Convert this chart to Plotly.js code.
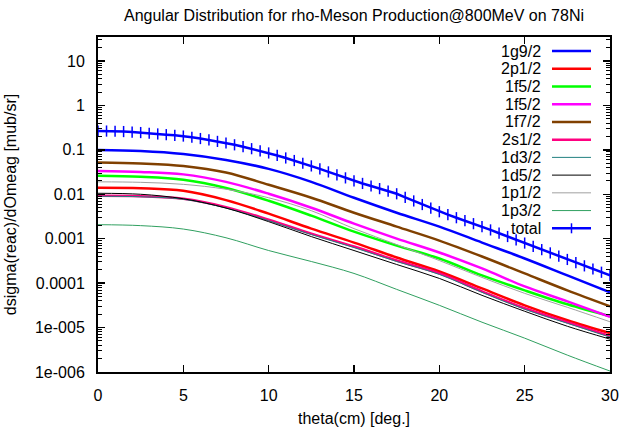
<!DOCTYPE html>
<html><head><meta charset="utf-8">
<script src="https://cdn.plot.ly/plotly-3.0.1.min.js"></script>
<style>html,body{margin:0;padding:0;background:#fff}#chart{width:621px;height:429px}</style>
</head><body><div id="chart"></div>
<script>
// ---------- data ----------
const thetaCoarse = [0, 2.5, 5, 7.5, 10, 12.5, 15, 17.5, 20, 22.5, 25, 27.5, 30];
const thetaFine = [0,0.5,1,1.5,2,2.5,3,3.5,4,4.5,5,5.5,6,6.5,7,7.5,8,8.5,9,9.5,10,10.5,11,11.5,12,12.5,13,13.5,14,14.5,15,15.5,16,16.5,17,17.5,18,18.5,19,19.5,20,20.5,21,21.5,22,22.5,23,23.5,24,24.5,25,25.5,26,26.5,27,27.5,28,28.5,29,29.5,30];

const names = ['1g9/2','2p1/2','1f5/2','1f5/2','1f7/2','2s1/2','1d3/2','1d5/2','1p1/2','1p3/2','total'];

const y1g92 = [0.0994,0.0944,0.0808,0.0593,0.0373,0.01906,0.00835,0.00385,0.00187,0.000819,0.000359,0.0001492,0.0000620];
const y2p12 = [0.01398,0.01363,0.01198,0.00740,0.00366,0.001686,0.000819,0.000378,0.0001833,0.0000762,0.0000317,0.0000146,0.00000748];
const y1f52a = [0.02598,0.02467,0.02113,0.01380,0.00715,0.00330,0.001444,0.000701,0.000359,0.0001492,0.0000688,0.0000334,0.0000180];
const y1f52b = [0.0336,0.0319,0.02806,0.01900,0.01026,0.00498,0.00218,0.001006,0.000489,0.000214,0.0000846,0.0000390,0.0000175];
const y1f72 = [0.0521,0.0495,0.0435,0.0310,0.01633,0.00835,0.00385,0.00187,0.000908,0.000398,0.0001654,0.0000688,0.0000301];
const y2s12 = [0.00925,0.00902,0.00793,0.00515,0.00268,0.001302,0.000666,0.000323,0.0001654,0.0000653,0.0000272,0.0000132,0.0000064];
const y1d32 = [0.00902,0.00879,0.00772,0.00490,0.00255,0.001237,0.000632,0.000307,0.0001570,0.0000620,0.0000258,0.0000125,0.00000609];
const y1d52 = [0.01053,0.0100,0.00793,0.00490,0.00242,0.001116,0.000542,0.000263,0.0001278,0.0000531,0.0000233,0.0000107,0.00000549];
const y1p12 = [0.01906,0.01858,0.01675,0.01300,0.00835,0.00427,0.001686,0.000738,0.000323,0.0001345,0.0000589,0.0000286,0.0000135];
const y1p32 = [0.00207,0.00197,0.00165,0.00105,0.000542,0.000307,0.0001654,0.0000724,0.0000317,0.0000132,0.00000578,0.00000240,0.00000105];
const yTotal = [0.2648,0.2648,0.2620,0.2580,0.2514,0.2450,0.2363,0.2279,0.2199,0.2121,0.2046,0.1923,0.1798,0.1673,0.1548,0.1426,0.1299,0.1178,0.1062,0.0953,0.0851,0.0748,0.0657,0.0575,0.0500,0.0435,0.0373,0.0319,0.0273,0.0234,0.0201,0.01754,0.01535,0.01342,0.01174,0.01026,0.00852,0.00708,0.00588,0.00488,0.00405,0.00347,0.00297,0.00255,0.00218,0.00187,0.001576,0.001329,0.001121,0.000946,0.000798,0.000673,0.000568,0.000479,0.000404,0.000341,0.000289,0.000245,0.000208,0.000176,0.0001492];

const yTickVals = [1e-6,1e-5,1e-4,1e-3,0.01,0.1,1,10];
const yTickText = ['1e-006','1e-005','0.0001','0.001','0.01','0.1','1','10'];
const xTickVals = [0,5,10,15,20,25,30];

const titleText = 'Angular Distribution for rho-Meson Production@800MeV on 78Ni';
const xTitleText = 'theta(cm) [deg.]';
const yTitleText = 'dsigma(reac)/dOmeag [mub/sr]';

// ---------- styles ----------
const colors = ['#0000ff','#ff0000','#00ff00','#ff00ff','#804000','#ff0080','#208080','#000000','#a0a0a0','#30a060','#0000ff'];
const widths = [2.5,2.5,2.5,2.5,2.5,2.5,1,1,1,1,2.5];
const seriesY = [y1g92,y2p12,y1f52a,y1f52b,y1f72,y2s12,y1d32,y1d52,y1p12,y1p32];

const FONT = 'Liberation Sans, Arial, sans-serif';
const W = 621, H = 429;
const L = 98, R = 610, T = 37, B = 372;

const traces = seriesY.map((ys, i) => ({
  x: thetaCoarse, y: ys, type: 'scatter', mode: 'lines', name: names[i],
  line: {color: colors[i], width: widths[i], shape: 'spline', smoothing: 1},
  showlegend: false, hoverinfo: 'skip'
}));
traces.push({
  x: thetaFine, y: yTotal, type: 'scatter', mode: 'lines+markers', name: names[10],
  line: {color: colors[10], width: 2.5},
  marker: {symbol: 'line-ns', size: 8, color: colors[10], line: {color: colors[10], width: 1.5}},
  showlegend: false, hoverinfo: 'skip'
});

// minor ticks for log axis
const minorVals = [];
for (let e = -6; e <= 1; e++) for (let m = 2; m <= 9; m++) minorVals.push(m * Math.pow(10, e));

// custom gnuplot-style legend
const px2x = p => (p - L) / (R - L);
const px2y = p => (B - p) / (B - T);
const shapes = [], annotations = [];
names.forEach((n, i) => {
  const yy = 51 + 17.73 * i;
  annotations.push({xref: 'paper', yref: 'paper', x: px2x(543), y: px2y(yy), xanchor: 'right', yanchor: 'middle',
    text: n, showarrow: false, font: {family: FONT, size: 16, color: '#000'}});
  shapes.push({type: 'line', xref: 'paper', yref: 'paper', x0: px2x(552), x1: px2x(591), y0: px2y(yy), y1: px2y(yy),
    line: {color: colors[i], width: widths[i]}});
  if (i === 10) {
    shapes.push({type: 'line', xref: 'paper', yref: 'paper', x0: px2x(571.5), x1: px2x(571.5), y0: px2y(yy - 5), y1: px2y(yy + 5),
      line: {color: colors[i], width: 1.5}});
  }
});

const layout = {
  width: W, height: H,
  margin: {l: L, r: W - R, t: T, b: H - B, pad: 0},
  paper_bgcolor: '#fff', plot_bgcolor: '#fff',
  font: {family: FONT, size: 16, color: '#000'},
  title: {text: titleText, x: 0.5, xref: 'paper', y: 1 - 15 / H, yref: 'container', yanchor: 'middle', xanchor: 'center',
    font: {family: FONT, size: 16, color: '#000'}},
  showlegend: false,
  xaxis: {
    range: [0, 30], tickmode: 'array', tickvals: xTickVals, ticktext: xTickVals.map(String),
    ticks: 'inside', ticklen: 7, tickwidth: 1.5, tickcolor: '#000',
    showline: true, linewidth: 2, linecolor: '#000', mirror: 'ticks',
    showgrid: false, zeroline: false, ticklabelstandoff: 8,
    tickfont: {family: FONT, size: 16, color: '#000'},
    title: {text: xTitleText, standoff: 10, font: {family: FONT, size: 16, color: '#000'}},
    automargin: false
  },
  yaxis: {
    type: 'log', range: [-6, 1.54], tickmode: 'array', tickvals: yTickVals, ticktext: yTickText,
    ticks: 'inside', ticklen: 7, tickwidth: 1.5, tickcolor: '#000',
    minor: {tickmode: 'array', tickvals: minorVals, ticks: 'inside', ticklen: 4, tickwidth: 1, tickcolor: '#000', showgrid: false},
    showline: true, linewidth: 2, linecolor: '#000', mirror: 'ticks',
    showgrid: false, zeroline: false, ticklabelstandoff: 8,
    tickfont: {family: FONT, size: 16, color: '#000'},
    title: {text: yTitleText, standoff: 14, font: {family: FONT, size: 16, color: '#000'}},
    automargin: false
  },
  shapes: shapes,
  annotations: annotations
};

Plotly.newPlot('chart', traces, layout, {staticPlot: true, displayModeBar: false});
</script>
</body></html>
